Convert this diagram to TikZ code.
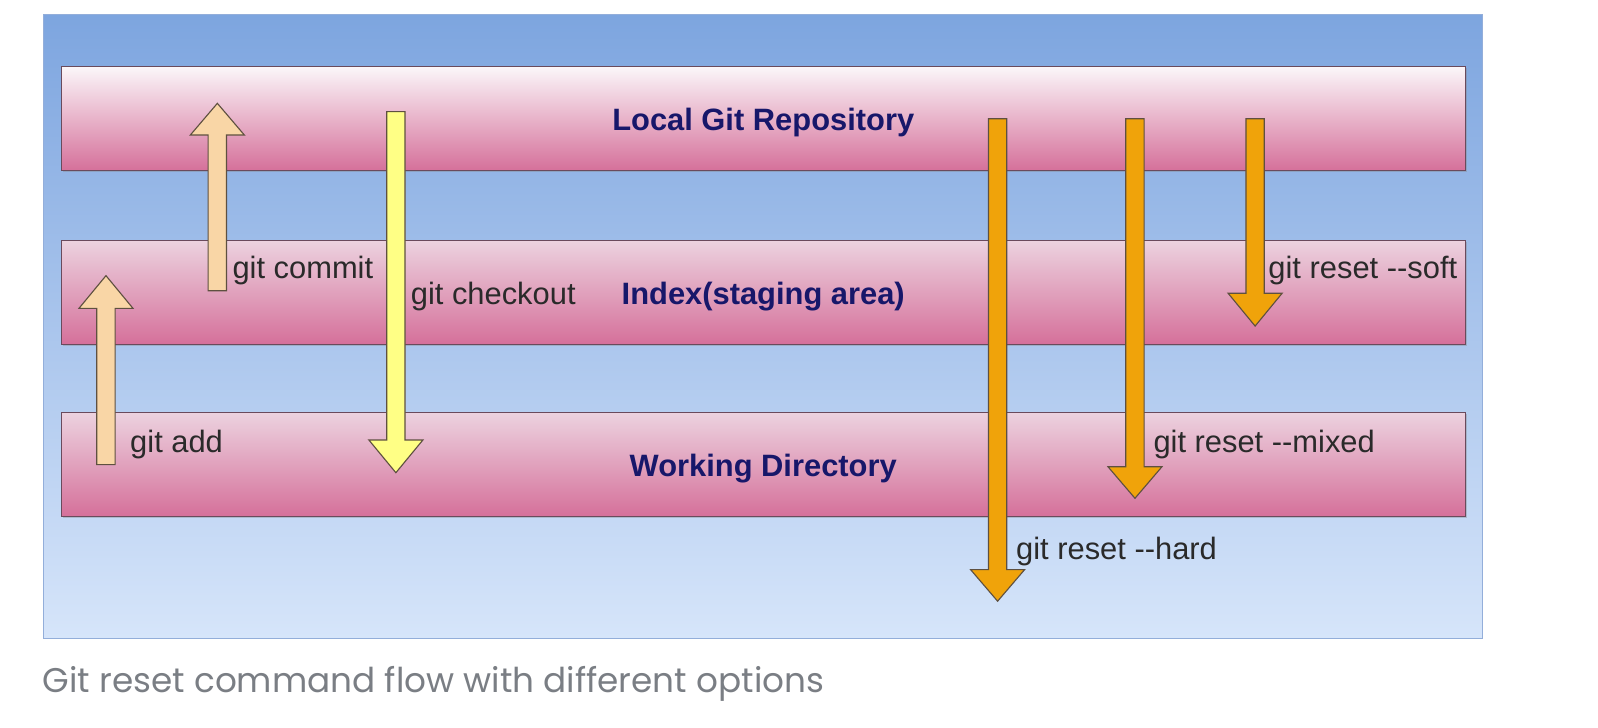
\documentclass[tikz,border=0pt]{standalone}
\usepackage{fontspec}
\setmainfont{Liberation Sans}
\newfontfamily\capfont{Poppins}
\usetikzlibrary{shadows}
\definecolor{bgtop}{HTML}{7DA5DF}
\definecolor{bgbot}{HTML}{D6E5FA}
\definecolor{bgline}{HTML}{93AEDA}
\definecolor{bandtopA}{HTML}{FBF6F9}
\definecolor{bandtopB}{HTML}{ECD2DF}
\definecolor{bandbot}{HTML}{D5709A}
\definecolor{bandline}{HTML}{6A4A5C}
\definecolor{peach}{HTML}{F9D6A6}
\definecolor{lemon}{HTML}{FFFF85}
\definecolor{amber}{HTML}{F0A30A}
\definecolor{arrline}{HTML}{5E5040}
\definecolor{navy}{HTML}{17176A}
\definecolor{labelc}{HTML}{2A2A2A}
\definecolor{capgray}{HTML}{7A7E84}
\newcommand\gitarrow[5]{% style, cx, shaft end, head base, tip
  \draw[#1] ({#2-9},#3) -- ({#2+9},#3) -- ({#2+9},#4) -- ({#2+26.5},#4) -- (#2,#5)
    -- ({#2-26.5},#4) -- ({#2-9},#4) -- cycle;}
\begin{document}
\begin{tikzpicture}[x=1pt,y=-1pt,
  band/.style={draw=bandline, line width=1.4pt, bottom color=bandbot, rectangle,
    minimum width=1377.5pt, minimum height=102pt, inner sep=0pt,
    drop shadow={shadow xshift=1.5pt, shadow yshift=-1.5pt, opacity=0.35}},
  title/.style={anchor=base, inner sep=0pt, text=navy,
    font=\fontsize{30.3}{36}\selectfont\bfseries},
  lbl/.style={anchor=base west, inner sep=0pt, text=labelc,
    font=\fontsize{30.3}{36}\selectfont},
  blk/.style={draw=arrline, line width=1.1pt, line join=miter}]
\useasboundingbox (0,0) rectangle (1568.2,714.4);
% background panel
\path[draw=bgline, line width=1pt, top color=bgtop, bottom color=bgbot]
  (43,14) rectangle (1455,626.5);
% bands
\node[band, top color=bandtopA] (repo) at (749.25,116.5) {};
\node[band, top color=bandtopB] (index) at (749.25,287) {};
\node[band, top color=bandtopB] (work) at (749.25,456) {};
% titles
\node[title] (trepo) at (749,127.6) {Local Git Repository};
\node[title] (tindex) at (749,298.5) {Index(staging area)};
\node[title] (twork) at (749,467.5) {Working Directory};
% block arrows
\gitarrow{blk, fill=peach}{104}{456}{302.6}{270.5}
\gitarrow{blk, fill=peach}{213.3}{285.3}{132.5}{101.4}
\gitarrow{blk, fill=lemon}{388.5}{109.6}{431.8}{463.9}
\gitarrow{blk, fill=amber}{979}{116.5}{559}{590}
\gitarrow{blk, fill=amber}{1113.8}{116.5}{458}{489}
\gitarrow{blk, fill=amber}{1231.7}{116.5}{287.8}{320}
% labels
\node[lbl] (ladd) at (127.6,443.6) {git add};
\node[lbl] (lcommit) at (228,273.5) {git commit};
\node[lbl] (lcheckout) at (403,298.7) {git checkout};
\node[lbl] (lsoft) at (1244.6,273.5) {git reset -{}-soft};
\node[lbl] (lmixed) at (1131.8,444) {git reset -{}-mixed};
\node[lbl] (lhard) at (997,549) {git reset -{}-hard};
% caption
\node[anchor=base west, inner sep=0pt, text=capgray,
  font=\capfont\fontsize{33.6}{40}\selectfont] (cap) at (41.9,680)
  {Git reset command flow with different options};
\end{tikzpicture}
\end{document}
